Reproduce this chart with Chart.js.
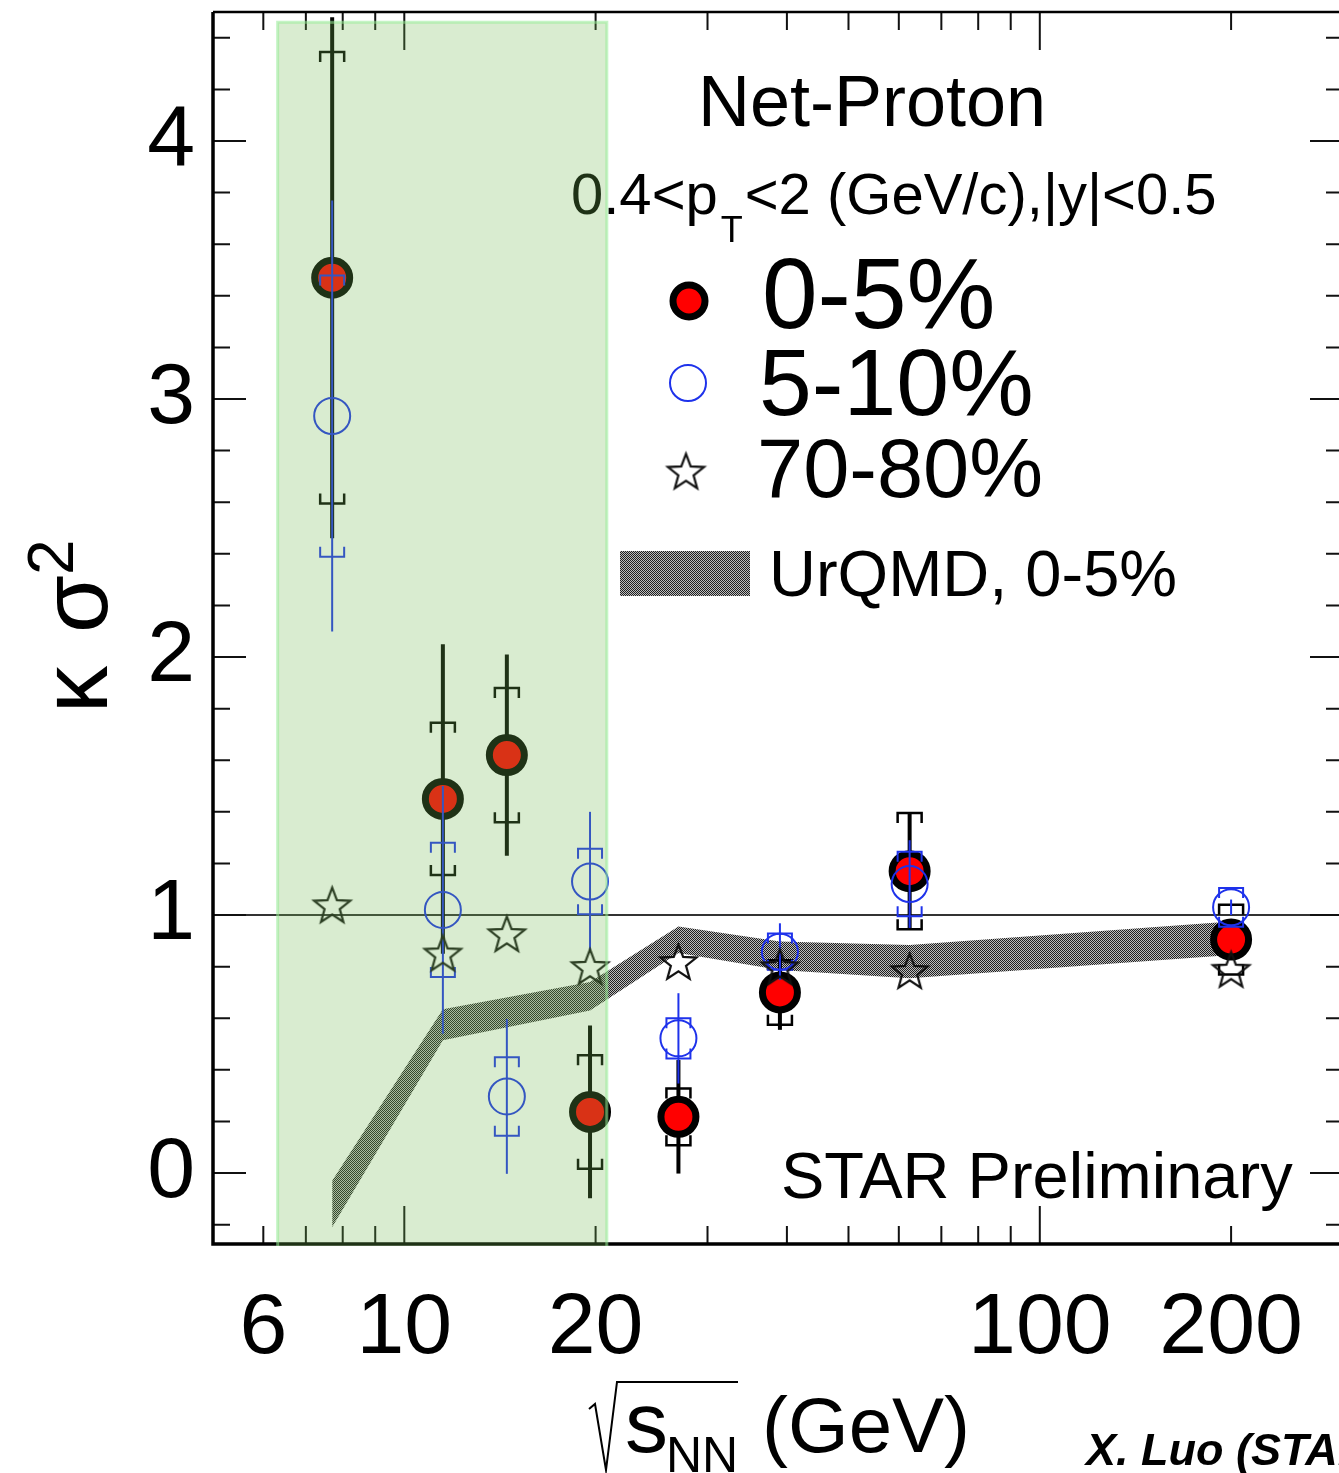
<!DOCTYPE html>
<html>
<head>
<meta charset="utf-8">
<script src="https://cdn.jsdelivr.net/npm/chart.js@4/dist/chart.umd.min.js"></script>
<style>
  html, body { margin: 0; padding: 0; background: #fff; overflow: hidden; }
  canvas { display: block; }
</style>
</head>
<body>
<canvas id="c" width="1350" height="1473" style="width:1350px;height:1473px"></canvas>
<script>
const FONT = '"Liberation Sans", Arial, Helvetica, sans-serif';

// Beam energies (GeV)
const energies = [7.7, 11.5, 14.5, 19.6, 27, 39, 62.4, 200];

// Net-proton kappa*sigma^2, 0-5% centrality
const central05 = [3.47, 1.45, 1.62, 0.237, 0.218, 0.70, 1.17, 0.905];
const central05Stat = [1.01, 0.60, 0.39, 0.335, 0.22, 0.145, 0.225, 0.06];
const central05Sys = [0.875, 0.295, 0.26, 0.22, 0.11, 0.125, 0.225, 0.135];

// 5-10% centrality
const central510 = [2.934, 1.02, 0.297, 1.13, 0.522, 0.858, 1.12, 1.03];
const central510Stat = [0.835, 0.48, 0.30, 0.27, 0.175, 0.11, 0.17, 0.03];
const central510Sys = [0.545, 0.26, 0.152, 0.127, 0.078, 0.07, 0.125, 0.075];

// 70-80% centrality
const peripheral7080 = [1.04, 0.853, 0.928, 0.801, 0.82, 0.80, 0.785, 0.79];

// UrQMD 0-5% band (upper and lower edges)
const urqmdEnergies = [7.7, 11.5, 19.6, 27, 39, 62.4, 200];
const urqmdHigh = [-0.03, 0.635, 0.74, 0.956, 0.897, 0.884, 0.975];
const urqmdLow = [-0.21, 0.515, 0.63, 0.853, 0.787, 0.755, 0.845];

// Axis tick values
const xLabelTicks = [6, 10, 20, 100, 200];
const xMajorTicks = [10, 100];
const xMinorTicks = [6, 7, 8, 9, 20, 30, 40, 50, 60, 70, 80, 90, 200];
const yLabelTicks = [0, 1, 2, 3, 4];

// Highlighted energy range
const shadedRange = [6.32, 20.83];
const shadedTop = 4.46;

const canvas = document.getElementById('c');
const ctx0 = canvas.getContext('2d');

// checkered fill used for the model band
function makeHatch() {
  const pc = document.createElement('canvas');
  pc.width = 2; pc.height = 2;
  const g = pc.getContext('2d');
  g.fillStyle = '#bdbdbd'; g.fillRect(0, 0, 2, 2);
  g.fillStyle = '#202020'; g.fillRect(0, 0, 1, 1); g.fillRect(1, 1, 1, 1);
  return ctx0.createPattern(pc, 'repeat');
}
const hatch = makeHatch();

// open five-pointed star marker
function makeStar(R, lw) {
  const s = Math.ceil(2 * R + lw + 4);
  const c = document.createElement('canvas');
  c.width = s; c.height = s;
  const g = c.getContext('2d');
  const cx = s / 2, cy = s / 2 + R * 0.1;
  g.beginPath();
  for (let k = 0; k < 10; k++) {
    const r = k % 2 ? R * 0.42 : R;
    const a = -Math.PI / 2 + k * Math.PI / 5;
    g.lineTo(cx + r * Math.cos(a), cy + r * Math.sin(a));
  }
  g.closePath();
  g.lineWidth = lw;
  g.strokeStyle = '#111';
  g.stroke();
  return c;
}
const starImg = makeStar(19, 2.2);

const BLUE = 'rgb(30,50,235)';

function toXY(xs, ys) { return xs.map((x, i) => ({ x: x, y: ys[i] })); }

function drawErrors(chart, vals, stat, sys, color, statW, sysW) {
  const xs = chart.scales.x, ys = chart.scales.y, ctx = chart.ctx, a = chart.chartArea;
  ctx.save();
  ctx.beginPath();
  ctx.rect(a.left, a.top, a.right - a.left, a.bottom - a.top);
  ctx.clip();
  ctx.strokeStyle = color;
  energies.forEach((e, i) => {
    const px = xs.getPixelForValue(e);
    ctx.lineWidth = statW;
    ctx.beginPath();
    ctx.moveTo(px, ys.getPixelForValue(vals[i] + stat[i]));
    ctx.lineTo(px, ys.getPixelForValue(vals[i] - stat[i]));
    ctx.stroke();
    const hi = ys.getPixelForValue(vals[i] + sys[i]);
    const lo = ys.getPixelForValue(vals[i] - sys[i]);
    ctx.lineWidth = sysW;
    ctx.beginPath();
    ctx.moveTo(px - 12, hi + 10); ctx.lineTo(px - 12, hi); ctx.lineTo(px + 12, hi); ctx.lineTo(px + 12, hi + 10);
    ctx.moveTo(px - 12, lo - 10); ctx.lineTo(px - 12, lo); ctx.lineTo(px + 12, lo); ctx.lineTo(px + 12, lo - 10);
    ctx.stroke();
  });
  ctx.restore();
}

// keep the plot frame at a fixed place regardless of label sizes
function fixBox(size, isX) {
  return s => {
    if (isX) s.height = size; else s.width = size;
    s.paddingTop = 0; s.paddingBottom = 0; s.paddingLeft = 0; s.paddingRight = 0;
  };
}

const decorations = {
  id: 'decorations',
  afterDatasetDraw(chart, args) {
    // reference line at unity, above the model band
    if (args.index === 1) {
      const ctx = chart.ctx, a = chart.chartArea, ys = chart.scales.y;
      const y1 = ys.getPixelForValue(1);
      ctx.save();
      ctx.strokeStyle = '#333';
      ctx.lineWidth = 2;
      ctx.beginPath(); ctx.moveTo(a.left, y1); ctx.lineTo(a.right, y1); ctx.stroke();
      ctx.restore();
    }
  },
  beforeDatasetDraw(chart, args) {
    const id = chart.data.datasets[args.index].id;
    if (id === 'c05') drawErrors(chart, central05, central05Stat, central05Sys, '#000', 4, 2.5);
    if (id === 'c510') drawErrors(chart, central510, central510Stat, central510Sys, BLUE, 2, 2);
  },
  afterDraw(chart) {
    const ctx = chart.ctx, a = chart.chartArea, xs = chart.scales.x, ys = chart.scales.y;
    ctx.save();

    // tick marks on all four sides
    ctx.strokeStyle = '#111';
    ctx.lineWidth = 2;
    ctx.beginPath();
    const yt = [];
    for (let k = -1; k <= 22; k++) yt.push(Math.round(k * 0.2 * 10) / 10);
    yt.forEach(v => {
      if (v < -0.275 || v > 4.5) return;
      const py = ys.getPixelForValue(v);
      const len = Math.abs(v - Math.round(v)) < 1e-6 ? 33 : 17;
      ctx.moveTo(a.left, py); ctx.lineTo(a.left + len, py);
      ctx.moveTo(a.right, py); ctx.lineTo(a.right - len, py);
    });
    xMinorTicks.concat(xMajorTicks).forEach(v => {
      const px = xs.getPixelForValue(v);
      const len = xMajorTicks.includes(v) ? 38 : 18;
      ctx.moveTo(px, a.bottom); ctx.lineTo(px, a.bottom - len);
      ctx.moveTo(px, a.top); ctx.lineTo(px, a.top + len);
    });
    ctx.stroke();

    // frame
    ctx.strokeStyle = '#000';
    ctx.lineWidth = 3.5;
    ctx.beginPath();
    ctx.moveTo(a.left, a.top); ctx.lineTo(a.left, a.bottom); ctx.lineTo(a.right, a.bottom);
    ctx.stroke();
    ctx.lineWidth = 2.5;
    ctx.beginPath();
    ctx.moveTo(a.left, a.top); ctx.lineTo(a.right, a.top); ctx.lineTo(a.right, a.bottom);
    ctx.stroke();

    ctx.fillStyle = '#000';
    ctx.textAlign = 'left';
    ctx.textBaseline = 'alphabetic';

    // header texts
    ctx.font = `72px ${FONT}`;
    ctx.fillText('Net-Proton', 698, 126);
    let x = 571;
    ctx.font = `58px ${FONT}`;
    ctx.fillText('0.4<p', x, 214);
    x += ctx.measureText('0.4<p').width;
    ctx.font = `36px ${FONT}`;
    ctx.fillText('T', x + 3, 242);
    x += ctx.measureText('T').width + 5;
    ctx.font = `58px ${FONT}`;
    ctx.fillText('<2 (GeV/c),|y|<0.5', x, 214);

    // legend markers
    ctx.beginPath();
    ctx.arc(689, 301, 16, 0, Math.PI * 2);
    ctx.fillStyle = '#ff0000';
    ctx.fill();
    ctx.lineWidth = 7; ctx.strokeStyle = '#000'; ctx.stroke();
    ctx.beginPath();
    ctx.arc(688, 383, 18, 0, Math.PI * 2);
    ctx.lineWidth = 2; ctx.strokeStyle = BLUE; ctx.stroke();
    ctx.drawImage(starImg, 686 - starImg.width / 2, 471 - starImg.height / 2);
    ctx.fillStyle = hatch;
    ctx.fillRect(620, 551, 130, 45);

    // legend labels
    ctx.fillStyle = '#000';
    ctx.font = `100px ${FONT}`;
    ctx.fillText('0-5%', 762, 328);
    ctx.font = `95px ${FONT}`;
    ctx.fillText('5-10%', 759, 415);
    ctx.font = `83px ${FONT}`;
    ctx.fillText('70-80%', 757, 497);
    ctx.font = `65px ${FONT}`;
    ctx.fillText('UrQMD, 0-5%', 769, 596);

    ctx.font = `65px ${FONT}`;
    ctx.fillText('STAR Preliminary', 781, 1198);

    // x axis title: sqrt(s_NN) (GeV)
    ctx.font = `86px ${FONT}`;
    ctx.fillText('s', 625, 1452);
    ctx.font = `50px ${FONT}`;
    ctx.fillText('NN', 666, 1472);
    ctx.font = `78px ${FONT}`;
    ctx.fillText('(GeV)', 762, 1452);
    ctx.strokeStyle = '#000';
    ctx.lineWidth = 2;
    ctx.beginPath();
    ctx.moveTo(589, 1409); ctx.lineTo(595, 1404); ctx.lineTo(606, 1470);
    ctx.lineTo(617, 1382); ctx.lineTo(738, 1382);
    ctx.stroke();

    // y axis title: kappa sigma^2
    ctx.save();
    ctx.translate(107, 713);
    ctx.rotate(-Math.PI / 2);
    ctx.font = `94px ${FONT}`;
    ctx.fillText('\u03BA', 0, 0);
    ctx.fillText('\u03C3', 80, 0);
    ctx.font = `64px ${FONT}`;
    ctx.fillText('2', 138, -34);
    ctx.restore();

    // author credit
    ctx.font = `italic bold 45px ${FONT}`;
    ctx.fillText('X. Luo (STAR)', 1086, 1465);

    // highlighted energy range, drawn as a translucent overlay
    const gx0 = xs.getPixelForValue(shadedRange[0]);
    const gx1 = xs.getPixelForValue(shadedRange[1]);
    const gy0 = ys.getPixelForValue(shadedTop);
    const gy1 = a.bottom + 2;
    ctx.fillStyle = 'rgba(115,185,81,0.27)';
    ctx.fillRect(gx0, gy0, gx1 - gx0, gy1 - gy0);
    ctx.strokeStyle = 'rgba(150,235,150,0.55)';
    ctx.lineWidth = 3;
    ctx.beginPath();
    ctx.moveTo(gx0, gy1); ctx.lineTo(gx0, gy0); ctx.lineTo(gx1, gy0); ctx.lineTo(gx1, gy1);
    ctx.stroke();

    ctx.restore();
  }
};

new Chart(canvas, {
  type: 'scatter',
  data: {
    datasets: [
      {
        id: 'urqmdHigh', type: 'line', data: toXY(urqmdEnergies, urqmdHigh),
        borderWidth: 0, pointRadius: 0, backgroundColor: hatch, fill: '+1', tension: 0, order: 5
      },
      {
        id: 'urqmdLow', type: 'line', data: toXY(urqmdEnergies, urqmdLow),
        borderWidth: 0, pointRadius: 0, fill: false, tension: 0, order: 4
      },
      {
        id: 'c05', data: toXY(energies, central05),
        pointStyle: 'circle', pointRadius: 17.5, borderWidth: 7,
        backgroundColor: '#ff0000', borderColor: '#000', order: 3
      },
      {
        id: 'c510', data: toXY(energies, central510),
        pointStyle: 'circle', pointRadius: 18, borderWidth: 2,
        backgroundColor: 'rgba(0,0,0,0)', borderColor: BLUE, order: 2
      },
      {
        id: 'c7080', data: toXY(energies, peripheral7080),
        pointStyle: starImg, pointRadius: 19, order: 1
      }
    ]
  },
  options: {
    responsive: false,
    animation: false,
    events: [],
    layout: { autoPadding: false, padding: { top: 12, right: 7, left: 0, bottom: 0 } },
    plugins: { legend: { display: false }, tooltip: { enabled: false } },
    scales: {
      x: {
        type: 'logarithmic', min: 5, max: 300,
        afterBuildTicks: s => { s.ticks = xLabelTicks.map(v => ({ value: v })); },
        afterFit: fixBox(229, true),
        grid: { display: false, drawTicks: false },
        border: { display: false },
        ticks: {
          autoSkip: false, maxRotation: 0, padding: 34, color: '#000',
          font: { size: 86, family: FONT },
          callback: v => String(v)
        }
      },
      y: {
        min: -0.275, max: 4.5,
        afterBuildTicks: s => { s.ticks = yLabelTicks.map(v => ({ value: v })); },
        afterFit: fixBox(213, false),
        grid: { display: false, drawTicks: false },
        border: { display: false },
        ticks: {
          padding: 18, color: '#000',
          font: { size: 86, family: FONT },
          callback: v => String(v)
        }
      }
    }
  },
  plugins: [decorations]
});
</script>
</body>
</html>
